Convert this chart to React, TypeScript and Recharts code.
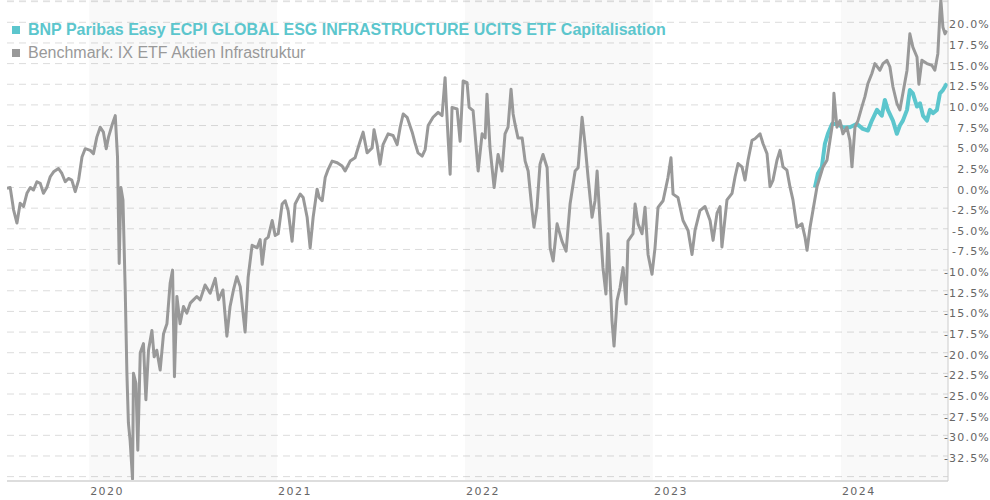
import React from "react";
import {
  LineChart,
  Line,
  XAxis,
  YAxis,
  CartesianGrid,
  ReferenceArea
} from "recharts";

// dates are decimal years
const benchDates = [
  2019.563, 2019.58, 2019.598, 2019.616, 2019.633, 2019.651, 2019.669, 2019.687, 2019.704, 2019.722,
  2019.74, 2019.757, 2019.775, 2019.793, 2019.811, 2019.837, 2019.855, 2019.873, 2019.89, 2019.908,
  2019.926, 2019.944, 2019.962, 2019.979, 2020.006, 2020.023, 2020.041, 2020.059, 2020.076, 2020.091,
  2020.103, 2020.121, 2020.139, 2020.151, 2020.16, 2020.169, 2020.18, 2020.192, 2020.201, 2020.209,
  2020.218, 2020.231, 2020.236, 2020.249, 2020.259, 2020.272, 2020.289, 2020.302, 2020.316, 2020.334,
  2020.346, 2020.36, 2020.378, 2020.396, 2020.414, 2020.431, 2020.444, 2020.454, 2020.467, 2020.484,
  2020.502, 2020.52, 2020.538, 2020.555, 2020.573, 2020.591, 2020.617, 2020.644, 2020.671, 2020.688,
  2020.712, 2020.733, 2020.75, 2020.768, 2020.786, 2020.804, 2020.83, 2020.846, 2020.867, 2020.894,
  2020.91, 2020.921, 2020.937, 2020.953, 2020.974, 2020.99, 2021.006, 2021.027, 2021.043, 2021.059,
  2021.08, 2021.096, 2021.123, 2021.139, 2021.16, 2021.176, 2021.192, 2021.213, 2021.224, 2021.24,
  2021.256, 2021.272, 2021.293, 2021.32, 2021.346, 2021.362, 2021.389, 2021.415, 2021.442, 2021.458,
  2021.479, 2021.506, 2021.516, 2021.532, 2021.548, 2021.564, 2021.591, 2021.617, 2021.639, 2021.655,
  2021.671, 2021.692, 2021.719, 2021.734, 2021.75, 2021.772, 2021.788, 2021.804, 2021.83, 2021.857,
  2021.878, 2021.894, 2021.902, 2021.91, 2021.921, 2021.931, 2021.958, 2021.974, 2021.99, 2022.011,
  2022.022, 2022.043, 2022.07, 2022.091, 2022.107, 2022.117, 2022.133, 2022.155, 2022.176, 2022.197,
  2022.213, 2022.229, 2022.245, 2022.256, 2022.266, 2022.282, 2022.304, 2022.32, 2022.336, 2022.357,
  2022.367, 2022.383, 2022.399, 2022.415, 2022.437, 2022.453, 2022.469, 2022.49, 2022.516, 2022.538,
  2022.559, 2022.586, 2022.602, 2022.623, 2022.639, 2022.655, 2022.676, 2022.692, 2022.703, 2022.719,
  2022.734, 2022.75, 2022.761, 2022.782, 2022.793, 2022.809, 2022.825, 2022.841, 2022.857, 2022.867,
  2022.894, 2022.905, 2022.921, 2022.942, 2022.958, 2022.974, 2022.995, 2023.011, 2023.027, 2023.054,
  2023.08, 2023.096, 2023.107, 2023.133, 2023.16, 2023.187, 2023.208, 2023.224, 2023.25, 2023.277,
  2023.304, 2023.32, 2023.341, 2023.357, 2023.367, 2023.394, 2023.421, 2023.437, 2023.453, 2023.474,
  2023.49, 2023.506, 2023.527, 2023.543, 2023.57, 2023.586, 2023.607, 2023.623, 2023.639, 2023.66,
  2023.676, 2023.692, 2023.713, 2023.729, 2023.745, 2023.766, 2023.793, 2023.809, 2023.82, 2023.836,
  2023.852, 2023.873, 2023.889, 2023.905, 2023.926, 2023.942, 2023.958, 2023.963, 2023.979, 2023.995,
  2024.011, 2024.032, 2024.048, 2024.059, 2024.075, 2024.091, 2024.112, 2024.128, 2024.144, 2024.165,
  2024.181, 2024.208, 2024.224, 2024.245, 2024.261, 2024.277, 2024.298, 2024.314, 2024.33, 2024.352,
  2024.367, 2024.383, 2024.405, 2024.415, 2024.431, 2024.458, 2024.484, 2024.5, 2024.516, 2024.527,
  2024.532, 2024.543, 2024.554, 2024.564
];

const benchValues = [
  -0.1, 0, -2.7, -4.3, -1.9, -2.3, -0.7, 0, -0.3, 0.7,
  0.5, -0.7, 0, 1.3, 1.9, 2.3, 1.7, 0.7, 1.1, 0.9,
  -0.5, 0.9, 3.7, 4.7, 4.5, 4.1, 6.1, 7.3, 6.7, 4.7,
  6.1, 7.5, 8.7, 3.7, -9.2, 0, -1.5, -12.4, -22.5, -28.5,
  -30.6, -35.3, -22.5, -23.7, -31.8, -20, -18.9, -25.7, -19.7, -17.3,
  -20.5, -19.7, -22.1, -17.7, -16.5, -11.6, -10, -22.9, -13.2, -16.5,
  -14.4, -15.2, -14, -13.6, -13.2, -13.6, -11.8, -12.8, -11, -13.6,
  -12.4, -18, -14.4, -12.4, -10.8, -12, -17.5, -10.9, -7, -7.3,
  -6.3, -9.3, -6.3, -6, -4, -5.8, -5.6, -2, -1.6, -2.8,
  -6.5, -2, -0.8, -1.2, -3.6, -7.3, -3.6, -0.2, -1.2, -1.6,
  1.2, 2.2, 3.2, 3, 2.6, 2, 3.2, 3.6, 5.6, 6.7,
  4.2, 4.8, 7, 5.2, 2.8, 5.2, 6.5, 6.3, 5.2, 7.3,
  8.9, 8.5, 6.7, 5.4, 4.2, 3.8, 4.6, 7.5, 8.5, 9.1,
  8.7, 13.3, 9.5, 6, 1.6, 9.7, 9.5, 5.6, 12.9, 12.7,
  9.7, 9.3, 2, 6.5, 6, 11.3, 4.8, 0, 4, 2,
  6.5, 7.3, 11.9, 8.9, 7.7, 6, 6, 3.2, 2, -2.8,
  -4.8, -2.4, 2.8, 4, 2.4, -7.3, -8.9, -4.4, -6.5, -7.7,
  -2, 2, 2.4, 8.5, 5.2, 1.2, -3.6, -1.6, 2, -4.4,
  -9.7, -12.9, -5.6, -16.1, -19.2, -13.7, -12.1, -9.7, -14.1, -6.5,
  -5.6, -2, -4.4, -5.6, -2.4, -8.1, -10.5, -7.3, -2.4, -1.6,
  1.2, 3.6, -0.8, -1.2, -4, -5.2, -8.1, -5.2, -2.8, -2.3,
  -4, -6.4, -3.1, -2.3, -7.2, -1.5, -0.7, 1.3, 2.9, 2.5,
  0.9, 3.3, 5.7, 5.9, 6.5, 5.3, 4.1, 0.1, 0.9, 3.3,
  4.5, 2.5, 2.1, 0.1, -1.5, -4.8, -4.4, -6, -7.6, -4.8,
  -2.7, 0.1, 1.3, 2.5, 3.3, 5.7, 8.1, 11.4, 7.3, 8.1,
  6.5, 7.3, 5.7, 2.5, 7.3, 8.1, 9.8, 11, 12.6, 13.8,
  15, 14.2, 15, 15.4, 14.6, 12.2, 10.2, 9.4, 11.4, 14.2,
  18.6, 17, 15.8, 12.5, 15.4, 15, 14.8, 14.2, 16.2, 21,
  22.7, 19.4, 18.6, 19
];

const fundDates = [
  2023.862, 2023.878, 2023.899, 2023.915, 2023.931, 2023.953, 2023.979, 2024.011, 2024.048, 2024.086,
  2024.117, 2024.144, 2024.165, 2024.192, 2024.218, 2024.234, 2024.25, 2024.277, 2024.298, 2024.314,
  2024.33, 2024.352, 2024.367, 2024.383, 2024.405, 2024.421, 2024.437, 2024.458, 2024.474, 2024.49,
  2024.511, 2024.527, 2024.543, 2024.564
];

const fundValues = [
  0, 1.7, 2.5, 5.3, 6.5, 7.7, 7.7, 7.3, 7.3, 7.7,
  7.1, 6.9, 8.1, 9.4, 8.7, 10.6, 9.4, 8.1, 6.5, 7.5,
  8.1, 9.4, 11.8, 11.4, 9.8, 10.2, 8.7, 8.1, 9.4, 9,
  9.4, 11.4, 11.8, 12.6
];

const yearTicks = [2020, 2021, 2022, 2023, 2024];
const pctTicks = [
  22.5, 20, 17.5, 15, 12.5, 10, 7.5, 5, 2.5, 0, -2.5, -5, -7.5, -10, -12.5,
  -15, -17.5, -20, -22.5, -25, -27.5, -30, -32.5, -35
];
const unlabelledTicks = [22.5, -35];
const shadedYears = [
  [2020, 2021],
  [2022, 2023],
  [2024, 2024.57]
];

const fundName = "BNP Paribas Easy ECPI GLOBAL ESG INFRASTRUCTURE UCITS ETF Capitalisation";
const benchName = "Benchmark: IX ETF Aktien Infrastruktur";

const TEAL = "#5cc6cd";
const GREY = "#999999";

const rows = [
  ...benchDates.map((t, i) => ({ t, bench: benchValues[i] })),
  ...fundDates.map((t, i) => ({ t, fund: fundValues[i] }))
].sort((a, b) => a.t - b.t);

const tickFont = {
  fontFamily: "DejaVu Sans",
  fontSize: 11,
  letterSpacing: 1.2,
  fill: "#666"
};

function PctTick({ y, payload }: any) {
  if (unlabelledTicks.includes(payload.value)) return <g />;
  return (
    <text x={990} y={y + 6} textAnchor="end" {...tickFont}>
      {payload.value.toFixed(1) + "%"}
    </text>
  );
}

function YearTick({ x, payload }: any) {
  return (
    <text x={x + 1} y={495} textAnchor="start" {...tickFont} letterSpacing={1.5}>
      {payload.value}
    </text>
  );
}

function LegendRow({ color, bold, label }: any) {
  return (
    <div style={{ color, fontWeight: bold ? 700 : 400, whiteSpace: "nowrap" }}>
      <span
        style={{
          display: "inline-block",
          width: 8,
          height: 8,
          background: color,
          marginRight: 8,
          position: "relative",
          top: -1
        }}
      />
      {label}
    </div>
  );
}

export default function App() {
  return (
    <div style={{ position: "absolute", left: 0, top: 0, width: 990, height: 500 }}>
      <LineChart
        width={990}
        height={500}
        data={rows}
        margin={{ top: 0, right: 0, bottom: 0, left: 7 }}
      >
        <CartesianGrid vertical={false} stroke="#dcdcdc" strokeDasharray="7 5" />
        {shadedYears.map(([a, b]) => (
          <ReferenceArea
            key={a}
            x1={a}
            x2={b}
            fill="#000"
            fillOpacity={0.022}
            stroke="none"
            ifOverflow="hidden"
          />
        ))}
        <XAxis
          dataKey="t"
          type="number"
          domain={[2019.563, 2024.57]}
          allowDataOverflow
          ticks={yearTicks}
          interval={0}
          height={19}
          axisLine={{ stroke: "#dddddd", strokeWidth: 2 }}
          tickLine={false}
          tick={<YearTick />}
        />
        <YAxis
          orientation="right"
          type="number"
          width={42}
          domain={[-35.53, 22.7]}
          allowDataOverflow
          ticks={pctTicks}
          interval={0}
          axisLine={{ stroke: "#cccccc" }}
          tickLine={false}
          tick={<PctTick />}
        />
        <Line
          dataKey="fund"
          stroke={TEAL}
          strokeWidth={4}
          strokeLinejoin="round"
          dot={false}
          connectNulls
          isAnimationActive={false}
        />
        <Line
          dataKey="bench"
          stroke={GREY}
          strokeWidth={3}
          strokeLinejoin="round"
          dot={false}
          connectNulls
          isAnimationActive={false}
        />
      </LineChart>
      <div
        style={{
          position: "absolute",
          left: 12,
          top: 18,
          fontFamily: "Liberation Sans",
          fontSize: 16,
          lineHeight: "23px"
        }}
      >
        <LegendRow color={TEAL} bold label={fundName} />
        <LegendRow color={GREY} label={benchName} />
      </div>
    </div>
  );
}
